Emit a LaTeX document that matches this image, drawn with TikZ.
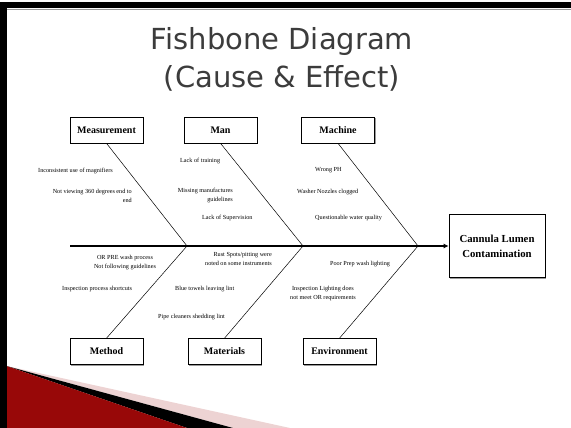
\documentclass[tikz,border=0pt]{standalone}
\usepackage{fontspec}
\setmainfont{Liberation Serif}
\newfontfamily\titlefont{DejaVu Sans}
\usetikzlibrary{arrows.meta,positioning,calc,shadows}
\definecolor{ink}{HTML}{000000}
\definecolor{titlegray}{HTML}{3C3C3C}
\definecolor{wine}{HTML}{980808}
\definecolor{winelight}{HTML}{CC5656}
\definecolor{blush}{HTML}{EDD3D3}
\definecolor{boxshadow}{HTML}{9A9A9A}
\newcommand{\SpineY}{246}
\newcommand{\BoxW}{73}
\newcommand{\BoxH}{26}

\begin{document}
\begin{tikzpicture}[x=1pt, y=-1pt, ink,
  catbox/.style={draw, line width=0.6pt, fill=white, minimum width=\BoxW pt, minimum height=\BoxH pt,
    inner sep=0pt, font=\bfseries\fontsize{10}{12}\selectfont,
    drop shadow={shadow xshift=1.2pt, shadow yshift=-1.2pt, fill=boxshadow, opacity=1}},
  cause/.style={font=\fontsize{6.2}{9}\selectfont, inner sep=0pt},
  bone/.style={line width=0.5pt}]
\useasboundingbox (0,0) rectangle (571,428);

% --- Slide: frame and the wedge at the bottom left ------------------------------
\fill[blush] (6.5,366) -- (290,428) -- (233,428) -- cycle;
\fill[ink] (6.5,366) -- (233,428) -- (187,428) -- cycle;
\shade[left color=wine, middle color=winelight, right color=wine] (6.5,366) -- (187,428) -- (6.5,428) -- cycle;
\fill[ink] (0,2) rectangle (571,8);
\draw[boxshadow, line width=0.6pt] (6,9.2) -- (571,9.2);
\fill[ink] (0,2) rectangle (6.5,428);

% --- Title -------------------------------------------------------------------------
\node[anchor=base, font=\titlefont\fontsize{29}{29}\selectfont, text=titlegray] (title1) at (282,50) {Fishbone Diagram};
\node[anchor=base, font=\titlefont\fontsize{29}{29}\selectfont, text=titlegray] (title2) at (282,88) {(Cause \& Effect)};

% --- Category boxes and the effect ---------------------------------------------------
\node[catbox] (measure) at (106.5,130) {Measurement};
\node[catbox] (man) at (220.5,130) {Man};
\node[catbox] (machine) at (338,130) {Machine};
\node[catbox] (method) at (106.5,351.5) {Method};
\node[catbox] (materials) at (224.5,351.5) {Materials};
\node[catbox] (environ) at (339.5,351.5) {Environment};
\node[catbox, minimum width=96pt, minimum height=63pt, align=center, font=\bfseries\fontsize{10.75}{15}\selectfont] (effect) at (497,\SpineY) {Cannula Lumen\\Contamination};

% --- Spine and bones ---------------------------------------------------------------------
\coordinate (tail) at (70,\SpineY);
\coordinate (j1) at (187,\SpineY);
\coordinate (j2) at (303,\SpineY);
\coordinate (j3) at (418,\SpineY);
\draw[line width=2.6pt, -{Latex[length=5pt,width=5pt]}] (tail) -- (effect.west);
\foreach \top/\bot/\j in {measure/method/j1, man/materials/j2, machine/environ/j3} {
  \draw[bone] (\top.south) -- (\j);
  \draw[bone] (\bot.north) -- (\j);
}

% --- Causes ----------------------------------------------------------------------------
\node[cause, anchor=west] (c1) at (38,171) {Inconsistent use of magnifiers};
\node[cause, anchor=east, align=right] (c2) at (132,195.5) {Not viewing 360 degrees end to\\end};
\node[cause, anchor=west] (c3) at (180,161) {Lack of training};
\node[cause, anchor=east, align=right] (c4) at (233,195.5) {Missing manufactures\\guidelines};
\node[cause, anchor=west] (c5) at (202,218) {Lack of Supervision};
\node[cause, anchor=west] (c6) at (315,170) {Wrong PH};
\node[cause, anchor=west] (c7) at (297,192) {Washer Nozzles clogged};
\node[cause, anchor=west] (c8) at (315,218) {Questionable water quality};
\node[cause, align=center] (c9) at (125,263) {OR PRE wash process\\Not following guidelines};
\node[cause, anchor=west] (c10) at (62,289) {Inspection process shortcuts};
\node[cause, anchor=east, align=right] (c11) at (272,259) {Rust Spots/pitting were\\noted on some instruments};
\node[cause, anchor=west] (c12) at (175,289) {Blue towels leaving lint};
\node[cause, anchor=west] (c13) at (158,317) {Pipe cleaners shedding lint};
\node[cause, anchor=west] (c14) at (330,264) {Poor Prep wash lighting};
\node[cause, align=center] (c15) at (323,293.5) {Inspection Lighting does\\not meet OR requirements};

\end{tikzpicture}
\end{document}
